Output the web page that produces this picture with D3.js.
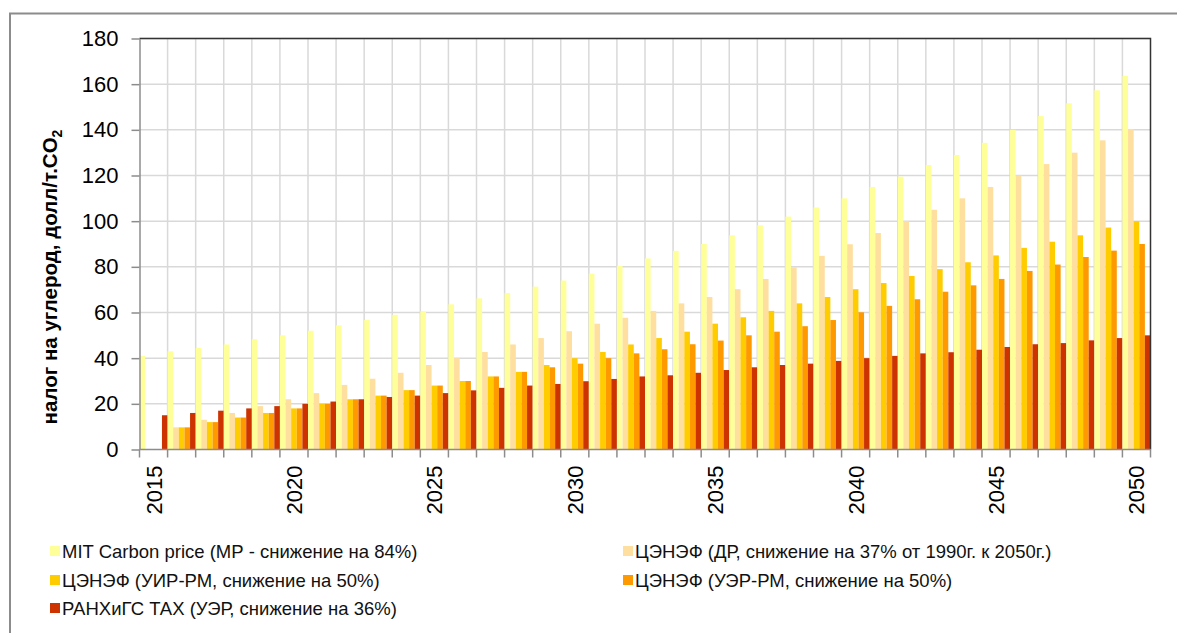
<!DOCTYPE html>
<html>
<head>
<meta charset="utf-8">
<script src="https://cdn.jsdelivr.net/npm/d3@7/dist/d3.min.js"></script>
<style>
  html, body { margin: 0; padding: 0; background: #fff; }
  svg { display: block; font-family: "Liberation Sans", Arial, sans-serif; }
</style>
</head>
<body>
<svg id="chart" width="1177" height="633"></svg>
<script>
// Years on the category axis
const years = d3.range(2015, 2051);

// Carbon tax trajectories, USD per tonne CO2 (null = no value that year)
const mitCarbonPrice = [41, 43, 44.5, 46, 48.3, 50, 52, 54.4, 56.7, 59, 60.5, 63.6, 66.2, 68.5, 71.3, 74,
  77, 80.4, 83.7, 87, 90, 93.8, 98.2, 102, 106, 110, 115, 119.5, 124.6, 129, 134.3, 140, 146, 151.6, 157.3, 163.6];
const cenefDR = [null, 9.7, 13, 16, 19, 22, 24.7, 28.3, 31, 33.6, 37, 40, 42.7, 46, 48.8, 51.8,
  55.1, 57.7, 60.7, 64, 66.8, 70.2, 74.7, 79.8, 84.8, 89.9, 94.8, 100, 105, 110, 115, 120, 125, 130, 135.4, 140.4];
const cenefUIR = [null, 9.7, 12, 14, 16, 18, 20, 22, 23.6, 26, 28, 30, 32, 34, 37, 40,
  42.7, 46, 48.8, 51.6, 55.1, 57.9, 60.7, 64, 66.8, 70.2, 72.9, 76, 79, 82, 85, 88.3, 91, 93.8, 97.2, 100];
const cenefUER = [null, 9.7, 12, 14, 16, 18, 20, 22, 23.6, 26, 28, 30, 32, 34, 36, 37.6,
  40, 42.1, 43.9, 46.1, 47.7, 50, 51.6, 54, 56.7, 60.1, 62.9, 65.8, 69.1, 71.9, 74.7, 78.2, 81, 84.3, 87.1, 90];
const ranepaTax = [15, 16, 17, 18, 19, 20, 21, 22, 23, 23.6, 24.7, 25.9, 27, 28, 28.7, 29.9,
  30.9, 32, 32.5, 33.6, 34.8, 36, 37, 37.6, 38.8, 40, 41, 42.1, 42.6, 43.7, 44.9, 46.1, 46.6, 47.8, 48.8, 50];

const seriesNames = [
  "MIT Carbon price (МР - снижение на 84%)",
  "ЦЭНЭФ (ДР, снижение на 37% от 1990г. к 2050г.)",
  "ЦЭНЭФ (УИР-РМ, снижение на 50%)",
  "ЦЭНЭФ (УЭР-РМ, снижение на 50%)",
  "РАНХиГС ТАХ (УЭР, снижение на 36%)"
];
const seriesValues = [mitCarbonPrice, cenefDR, cenefUIR, cenefUER, ranepaTax];
const seriesColors = ["#ffff99", "#ffdf9f", "#ffcc00", "#ff9900", "#cc3300"];

const yTicks = d3.range(0, 181, 20);
const yearLabels = [2015, 2020, 2025, 2030, 2035, 2040, 2045, 2050];

const svg = d3.select("#chart");

// outer chart frame
svg.append("rect")
  .attr("x", 10).attr("y", 13.5)
  .attr("width", 1200).attr("height", 700)
  .attr("fill", "#fff")
  .attr("stroke", "#8c8c8c").attr("stroke-width", 2);

const plot = { left: 139.5, right: 1150.5, top: 38.5, bottom: 449.5 };

const x = d3.scaleBand().domain(years).range([plot.left, plot.right]).paddingInner(0).paddingOuter(0);
const xs = d3.scaleBand().domain(d3.range(seriesValues.length)).range([0, x.bandwidth()]).padding(0);
const y = d3.scaleLinear().domain([0, 180]).range([plot.bottom, plot.top]);

// grid
const grid = svg.append("g");
grid.selectAll("line.h").data(yTicks.slice(1)).join("line")
  .attr("x1", plot.left).attr("x2", plot.right)
  .attr("y1", d => y(d)).attr("y2", d => y(d))
  .attr("stroke", "#d9d9d9").attr("stroke-width", 1.5);
grid.selectAll("line.v").data(years.slice(1)).join("line")
  .attr("x1", d => x(d)).attr("x2", d => x(d))
  .attr("y1", plot.top).attr("y2", plot.bottom)
  .attr("stroke", "#d9d9d9").attr("stroke-width", 1.5);

// bars
const rows = [];
years.forEach((yr, i) => {
  seriesValues.forEach((vals, s) => {
    if (vals[i] != null) rows.push({ year: yr, s, v: vals[i] });
  });
});
svg.append("g").selectAll("rect").data(rows).join("rect")
  .attr("x", d => x(d.year) + xs(d.s))
  .attr("width", xs.bandwidth())
  .attr("y", d => y(d.v))
  .attr("height", d => y(0) - y(d.v))
  .attr("fill", d => seriesColors[d.s]);

// plot area border (top and right)
svg.append("path")
  .attr("d", `M${plot.left},${plot.top}H${plot.right}V${plot.bottom}`)
  .attr("fill", "none").attr("stroke", "#333").attr("stroke-width", 1.5);

// y axis
const yAxis = svg.append("g")
  .attr("transform", `translate(${plot.left},0)`)
  .call(d3.axisLeft(y).tickValues(yTicks).tickSize(8).tickPadding(13).tickSizeOuter(0));
yAxis.select(".domain").attr("stroke", "#8c8c8c").attr("stroke-width", 1.5);
yAxis.selectAll(".tick line").attr("stroke", "#8c8c8c").attr("stroke-width", 1.5);
yAxis.selectAll(".tick text").attr("font-size", 22).attr("fill", "#000")
  .attr("font-family", "Liberation Sans, Arial, sans-serif");

// x axis: ticks at category boundaries, labels every 5 years
const xAxisG = svg.append("g").attr("transform", `translate(0,${plot.bottom})`);
xAxisG.append("line")
  .attr("x1", plot.left).attr("x2", plot.right)
  .attr("stroke", "#8c8c8c").attr("stroke-width", 1.5);
xAxisG.selectAll("line.tk").data(years.concat([null])).join("line")
  .attr("x1", (d, i) => plot.left + i * x.step())
  .attr("x2", (d, i) => plot.left + i * x.step())
  .attr("y1", 0).attr("y2", 8)
  .attr("stroke", "#8c8c8c").attr("stroke-width", 1.5);
xAxisG.selectAll("text").data(yearLabels).join("text")
  .attr("transform", d => `translate(${x(d) + x.bandwidth() / 2 + 8},16) rotate(-90)`)
  .attr("text-anchor", "end")
  .attr("font-size", 22)
  .text(d => d);

// y axis title
const yTitle = svg.append("text")
  .attr("transform", "translate(57,277) rotate(-90)")
  .attr("text-anchor", "middle")
  .attr("font-size", 20.5)
  .attr("font-weight", "bold");
yTitle.append("tspan").text("налог на углерод, долл/т.CO");
yTitle.append("tspan").attr("dy", 5).attr("font-size", 14).text("2");

// legend
const legendPos = [
  [50, 551], [623, 551],
  [50, 580], [623, 580],
  [50, 608]
];
const legend = svg.append("g").selectAll("g").data(seriesNames).join("g")
  .attr("transform", (d, i) => `translate(${legendPos[i][0]},${legendPos[i][1]})`);
legend.append("rect")
  .attr("x", 0).attr("y", -5).attr("width", 10).attr("height", 10)
  .attr("fill", (d, i) => seriesColors[i]);
legend.append("text")
  .attr("x", 12).attr("y", 6.5)
  .attr("font-size", 18.5)
  .attr("fill", "#111")
  .text(d => d);
</script>
</body>
</html>
